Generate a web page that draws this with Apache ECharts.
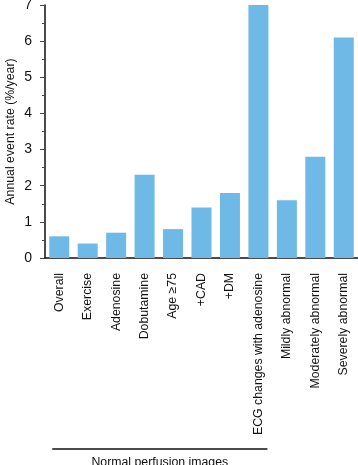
<!DOCTYPE html>
<html><head><meta charset="utf-8">
<script src="https://cdn.jsdelivr.net/npm/echarts@6/dist/echarts.min.js"></script>
<style>html,body{margin:0;padding:0;background:#fff}#c{width:358px;height:465px}</style>
</head><body><div id="c"></div>
<script>
const categories = ["Overall","Exercise","Adenosine","Dobutamine","Age \u226575","+CAD","+DM","ECG changes with adenosine","Mildly abnormal","Moderately abnormal","Severely abnormal"];
const values = [0.6,0.4,0.7,2.3,0.8,1.4,1.8,7.0,1.6,2.8,6.1];
const yTicks = [0,1,2,3,4,5,6,7];
const groupLabel = "Normal perfusion images";
const groupRange = [0,7];
const yName = "Annual event rate (%/year)";

const font = "'Liberation Sans', Arial, sans-serif";
const chart = echarts.init(document.getElementById('c'), null, {renderer:'canvas'});
chart.setOption({
  animation:false,
  grid:{left:45, right:0, top:5, bottom:207, containLabel:false, outerBoundsMode:'none'},
  xAxis:{type:'category', data:categories,
    axisLine:{lineStyle:{color:'#111', width:1.5}},
    axisTick:{alignWithLabel:true, length:5, lineStyle:{color:'#444'}},
    axisLabel:{rotate:90, interval:0, fontSize:12.3, color:'#111', fontFamily:font, margin:15}
  },
  yAxis:{type:'value', min:yTicks[0], max:yTicks[yTicks.length-1], interval:1,
    name:yName, nameLocation:'middle', nameGap:28, nameMoveOverlap:false,
    nameTextStyle:{fontSize:12.3,color:'#111',fontFamily:font},
    axisLine:{show:true, lineStyle:{color:'#111', width:1.5}},
    axisTick:{show:true, length:5, lineStyle:{color:'#444'}},
    minorTick:{show:true, splitNumber:2, length:3, lineStyle:{color:'#444'}},
    splitLine:{show:false},
    axisLabel:{fontSize:14, color:'#111', fontFamily:font, margin:13}
  },
  series:[{type:'bar', data:values, barWidth:20, itemStyle:{color:'#6fb9e7'}}]
});
const x0 = chart.convertToPixel({xAxisIndex:0}, groupRange[0]) - 7;
const x1 = chart.convertToPixel({xAxisIndex:0}, groupRange[1]) + 9;
chart.setOption({graphic:[
  {type:'line', shape:{x1:x0, y1:449, x2:x1, y2:449}, style:{stroke:'#111', lineWidth:1.5}},
  {type:'text', x:(x0+x1)/2, y:457, style:{text:groupLabel, fontSize:12.3, fill:'#111', fontFamily:font, textAlign:'center', textVerticalAlign:'top'}}
]});
</script></body></html>
